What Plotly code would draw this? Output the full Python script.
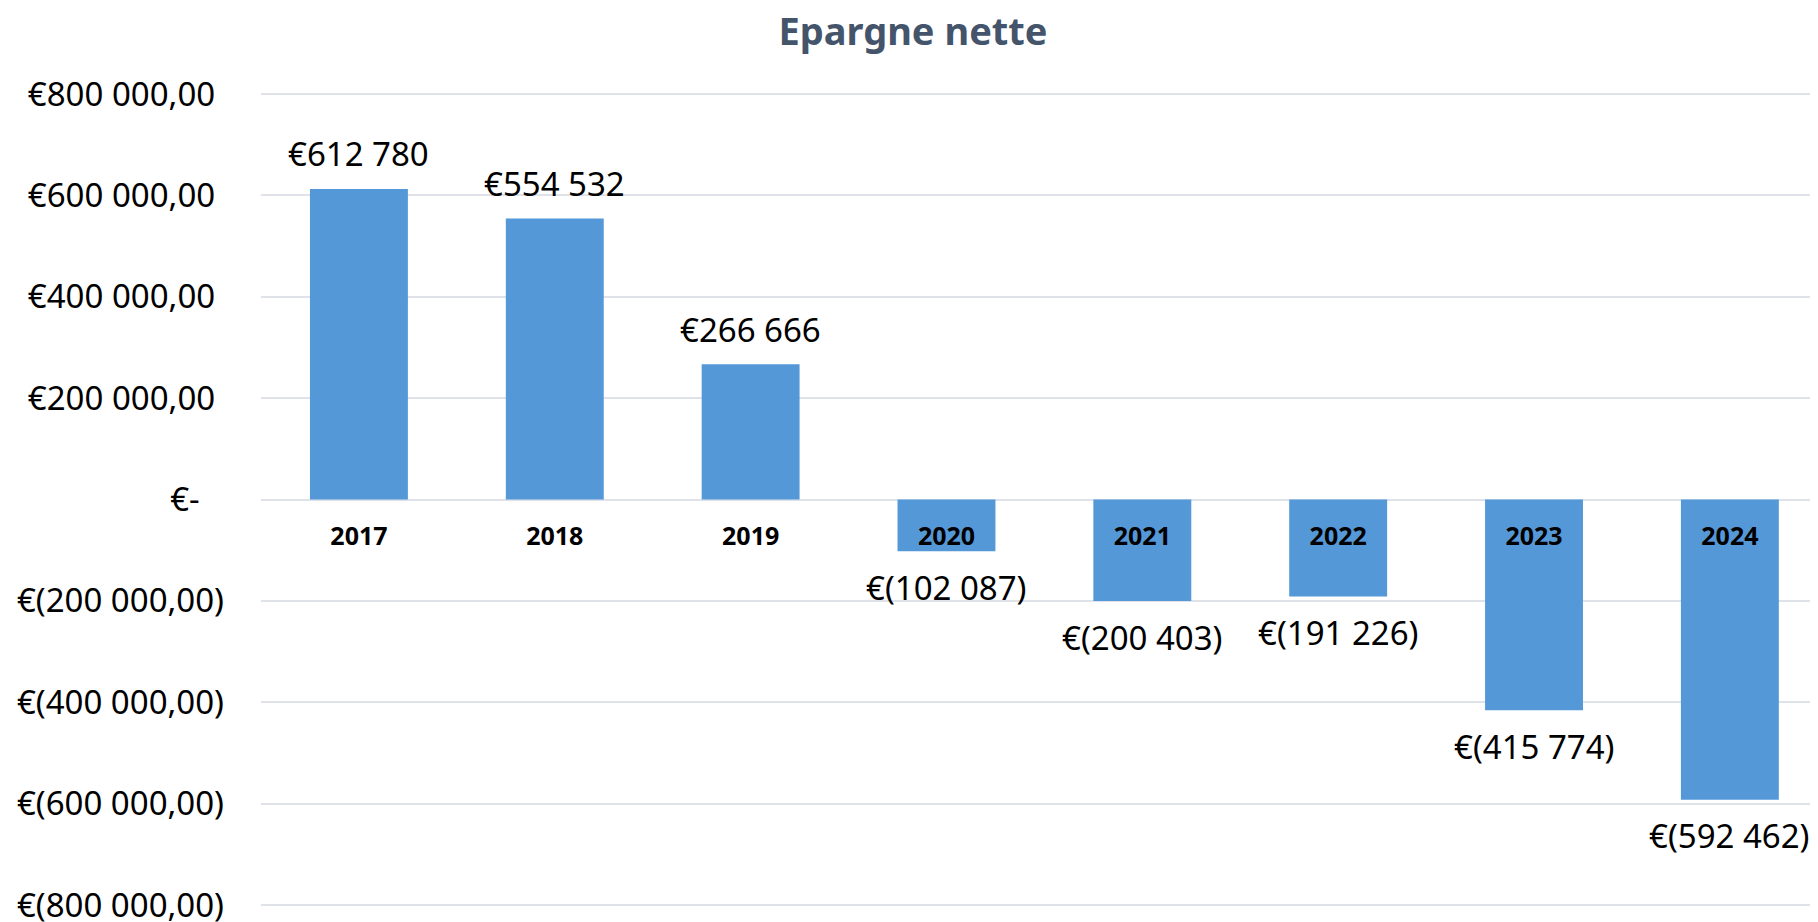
import plotly.graph_objects as go

years = ["2017", "2018", "2019", "2020", "2021", "2022", "2023", "2024"]
epargne_nette = [612780, 554532, 266666, -102087, -200403, -191226, -415774, -592462]
y_ticks = [800000, 600000, 400000, 200000, 0, -200000, -400000, -600000, -800000]

FONT = "Noto Sans"


def fmt_bar(v):
    s = f"{abs(v):,}".replace(",", " ")
    return f"€{s}" if v >= 0 else f"€({s})"


def fmt_tick(v):
    if v == 0:
        return "€-\u2007\u2009"
    s = f"{abs(v):,.2f}".replace(",", " ").replace(".", ",")
    return f"€{s}\u2008" if v > 0 else f"€({s})"


fig = go.Figure()
fig.add_trace(go.Bar(
    x=years,
    y=epargne_nette,
    width=0.5,
    marker=dict(color="#5598d8", line=dict(width=0)),
    hoverinfo="skip",
))

# data labels: category index on the x axis, value on the y axis
for i, v in enumerate(epargne_nette):
    fig.add_annotation(
        x=i, y=v, xref="x", yref="y",
        text=fmt_bar(v),
        showarrow=False,
        xanchor="center", yanchor="middle",
        yshift=35 if v >= 0 else -36,
        font=dict(family=FONT, size=33, color="#000000"),
    )

fig.update_layout(
    width=1810,
    height=914,
    paper_bgcolor="white",
    plot_bgcolor="white",
    margin=dict(l=253, r=0, t=84, b=15),
    showlegend=False,
    title=dict(
        text="<b>Epargne nette</b>",
        x=0.5, xref="container", xanchor="center",
        y=1 - 24 / 914, yref="container", yanchor="middle",
        font=dict(family=FONT, size=38, color="#44546a"),
    ),
    font=dict(family=FONT),
    xaxis=dict(
        type="category",
        range=[-0.5, 7.45],
        anchor="free",
        position=0.5,
        showline=False,
        showgrid=False,
        zeroline=False,
        ticks="",
        ticklabelstandoff=19,
        tickfont=dict(family=FONT, size=25, color="#000000", weight="bold"),
        automargin=False,
    ),
    yaxis=dict(
        range=[-804000, 804000],
        tickvals=y_ticks,
        ticktext=[fmt_tick(v) for v in y_ticks],
        tickfont=dict(family=FONT, size=33, color="#000000"),
        ticklabeloverflow="allow",
        showgrid=True,
        gridcolor="#dfe2e8",
        gridwidth=2,
        zeroline=True,
        zerolinecolor="#dfe2e8",
        zerolinewidth=2,
        showline=False,
        ticks="",
        ticklabelstandoff=36,
        automargin=False,
    ),
)

fig.write_html("out.html")
